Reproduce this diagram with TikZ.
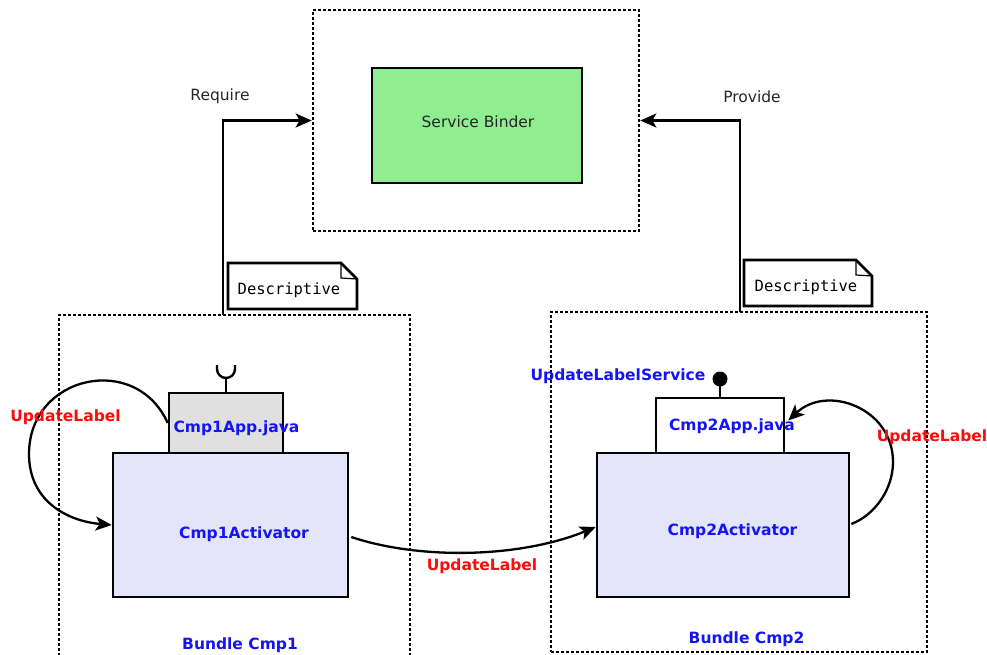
\documentclass[tikz,border=0pt]{standalone}
\usepackage{fontspec}
\setmainfont{DejaVu Sans}
\setmonofont{DejaVu Sans Mono}
\usetikzlibrary{arrows.meta,calc}
\definecolor{sbgreen}{RGB}{144,238,144}
\definecolor{lav}{RGB}{228,229,248}
\definecolor{appgray}{RGB}{224,224,224}
\definecolor{tblue}{RGB}{20,20,245}
\definecolor{tred}{RGB}{255,10,10}
\tikzset{
  fnt/.style={font=\fontsize{15.5}{18}\selectfont},
  plain/.style={fnt, text=black!85},
  blab/.style={font=\fontsize{15.5}{18}\selectfont\bfseries, text=tblue},
  rlab/.style={font=\fontsize{15.5}{18}\selectfont\bfseries, text=tred},
  dotbox/.style={draw, line width=2.6pt, dash pattern=on 2.6pt off 2.4pt, inner sep=0pt},
  solidbox/.style={draw, line width=2.6pt, inner sep=0pt},
  conn/.style={line width=2.3pt, -{Stealth[length=16pt,width=14pt,inset=4pt]}},
  notetxt/.style={font=\ttfamily\fontsize{15.5}{18}\selectfont, inner sep=0pt},
}
\begin{document}
\begin{tikzpicture}[x=1pt,y=-1pt]
\useasboundingbox (0,0) rectangle (987,655);

% Service binder
\node[dotbox, minimum width=326pt, minimum height=221pt] (sb) at (476,120.5) {};
\node[solidbox, fill=sbgreen, minimum width=210pt, minimum height=115pt] (sbin) at (477,125.5) {};
\node[plain] (sbt) at (478,122) {Service Binder};

% Bundles
\node[dotbox, minimum width=351pt, minimum height=400pt] (b1) at (234.5,515) {};
\node[dotbox, minimum width=376pt, minimum height=340pt] (b2) at (739,482) {};
\node[blab] (b1t) at (240,645) {Bundle Cmp1};
\node[blab] (b2t) at (746.5,639) {Bundle Cmp2};

% Components
\node[solidbox, fill=appgray, minimum width=114pt, minimum height=60pt] (app1) at (226,423) {};
\node[solidbox, fill=lav, minimum width=235pt, minimum height=144pt] (act1) at (230.5,525) {};
\node[solidbox, fill=white, minimum width=128pt, minimum height=55pt] (app2) at (720,425.5) {};
\node[solidbox, fill=lav, minimum width=252pt, minimum height=144pt] (act2) at (723,525) {};
\node[blab] (app1t) at (236.5,428.5) {Cmp1App.java};
\node[blab] (act1t) at (244,534) {Cmp1Activator};
\node[blab] (app2t) at (732,426) {Cmp2App.java};
\node[blab] (act2t) at (732.5,531.5) {Cmp2Activator};

% Required interface (socket) on app1
\coordinate (sock) at (226,378);
\draw[line width=2.4pt] (app1.north) -- (sock);
\draw[line width=2.4pt] (217,365) -- (217,369) arc[start angle=180, end angle=0, radius=9] -- (235,365);

% Provided interface (lollipop) on app2
\coordinate (lol) at (720,379);
\draw[line width=2.4pt] (app2.north) -- (lol);
\fill (lol) circle[radius=7.5];
\node[blab] (uls) at (618,376) {UpdateLabelService};

% Notes
\node[notetxt] (n1) at (289,290) {Descriptive};
\draw[line width=2.8pt] (228,263) -- (341,263) -- (357,279) -- (357,309) -- (228,309) -- cycle;
\draw[line width=1.2pt] (341,263) -- (341,278) -- (357,279);
\node[notetxt] (n2) at (806,287.5) {Descriptive};
\draw[line width=2.8pt] (744,260) -- (856,260) -- (872,276) -- (872,306) -- (744,306) -- cycle;
\draw[line width=1.2pt] (856,260) -- (856,275) -- (872,276);

% Require / Provide
\coordinate (req) at (223,315);
\coordinate (prov) at (740,312);
\draw[conn] (req) |- (sb.west);
\draw[conn] (prov) |- (sb.east);
\node[plain] (reqt) at (220,96) {Require};
\node[plain] (provt) at (752,97) {Provide};

% Self loop left
\coordinate (lmid) at (29,454);
\draw[conn] (app1.west) .. controls (136,352) and (29,375) .. (lmid)
   .. controls (29,501) and (67,521) .. (act1.west);
\node[rlab] (ul1) at (65.5,417.5) {UpdateLabel};

% Self loop right
\coordinate (rmid) at (893,462);
\draw[conn] ($(act2.east)+(1,-1)$) .. controls (875,515) and (893,489) .. (rmid)
   .. controls (893,408) and (827,384) .. ($(app2.east)+(3,-5)$);
\node[rlab] (ul2) at (932,437) {UpdateLabel};

% Bottom connector
\draw[conn] ($(act1.east)+(2,12)$) .. controls (420,560) and (520,558) .. ($(act2.west)+(0,2)$);
\node[rlab] (ul3) at (482,566.5) {UpdateLabel};
\end{tikzpicture}
\end{document}
